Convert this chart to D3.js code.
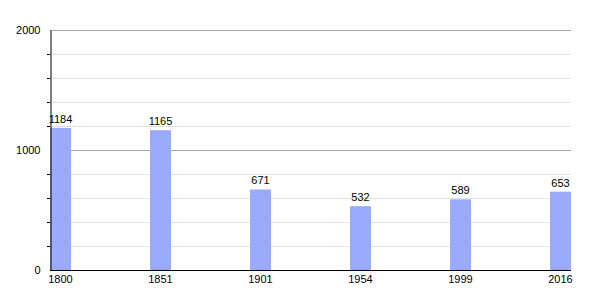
<!DOCTYPE html>
<html>
<head>
<meta charset="utf-8">
<script src="https://cdn.jsdelivr.net/npm/d3@7"></script>
<style>
  body { margin: 0; background: #fff; }
  text { font-family: "Liberation Sans", Arial, sans-serif; font-size: 11px; fill: #000; }
</style>
</head>
<body>
<div id="chart"></div>
<script>
var years = ['1800', '1851', '1901', '1954', '1999', '2016'];
var population = [1184, 1165, 671, 532, 589, 653];
var majorTicks = [0, 1000, 2000];
var minorTicks = [200, 400, 600, 800, 1200, 1400, 1600, 1800];

var data = years.map(function(y, i){ return {year: y, value: population[i]}; });

var width = 600, height = 300;
var margin = {top: 30, right: 29, bottom: 30, left: 50};
var barWidth = 21;

var svg = d3.select('#chart')
  .append('svg')
  .attr('width', width)
  .attr('height', height);

var x = d3.scalePoint()
  .domain(years)
  .range([margin.left, width - margin.right - barWidth]);

var y = d3.scaleLinear()
  .domain([0, 2000])
  .range([height - margin.bottom, margin.top]);

// grid lines
svg.append('g')
  .selectAll('line')
  .data(minorTicks)
  .enter().append('line')
  .attr('x1', margin.left).attr('x2', width - margin.right)
  .attr('y1', function(d){ return Math.round(y(d)) + 0.5; })
  .attr('y2', function(d){ return Math.round(y(d)) + 0.5; })
  .attr('stroke', '#e0e0e0');

svg.append('g')
  .selectAll('line')
  .data(majorTicks.slice(1))
  .enter().append('line')
  .attr('x1', margin.left).attr('x2', width - margin.right)
  .attr('y1', function(d){ return Math.round(y(d)) + 0.5; })
  .attr('y2', function(d){ return Math.round(y(d)) + 0.5; })
  .attr('stroke', '#a8a8a8');

// bars
svg.append('g')
  .selectAll('rect')
  .data(data)
  .enter().append('rect')
  .attr('x', function(d){ return x(d.year); })
  .attr('y', function(d){ return y(d.value); })
  .attr('width', barWidth)
  .attr('height', function(d){ return y(0) - y(d.value); })
  .attr('fill', '#99aaff');

// value labels
svg.append('g')
  .selectAll('text')
  .data(data)
  .enter().append('text')
  .attr('x', function(d){ return x(d.year) + barWidth / 2; })
  .attr('y', function(d){ return y(d.value) - 5; })
  .attr('text-anchor', 'middle')
  .text(function(d){ return d.value; });

// y axis
var yAxis = svg.append('g')
  .attr('transform', 'translate(' + (margin.left + 0.5) + ',0)')
  .call(d3.axisLeft(y).tickValues(majorTicks).tickSize(0).tickPadding(10).tickFormat(d3.format('d')));
yAxis.select('.domain').attr('stroke', '#000');
yAxis.selectAll('text').style('font-size', '11px').attr('fill', '#000');

svg.append('g')
  .selectAll('line')
  .data(minorTicks)
  .enter().append('line')
  .attr('x1', margin.left - 3).attr('x2', margin.left)
  .attr('y1', function(d){ return Math.round(y(d)) + 0.5; })
  .attr('y2', function(d){ return Math.round(y(d)) + 0.5; })
  .attr('stroke', '#000');

// x axis
var xAxis = svg.append('g')
  .attr('transform', 'translate(0,' + (y(0) + 0.5) + ')');
xAxis.append('line')
  .attr('x1', margin.left).attr('x2', width - margin.right)
  .attr('stroke', '#000');
xAxis.selectAll('text')
  .data(years)
  .enter().append('text')
  .attr('x', function(d){ return x(d) + barWidth / 2; })
  .attr('y', 12)
  .attr('text-anchor', 'middle')
  .text(function(d){ return d; });
</script>
</body>
</html>
